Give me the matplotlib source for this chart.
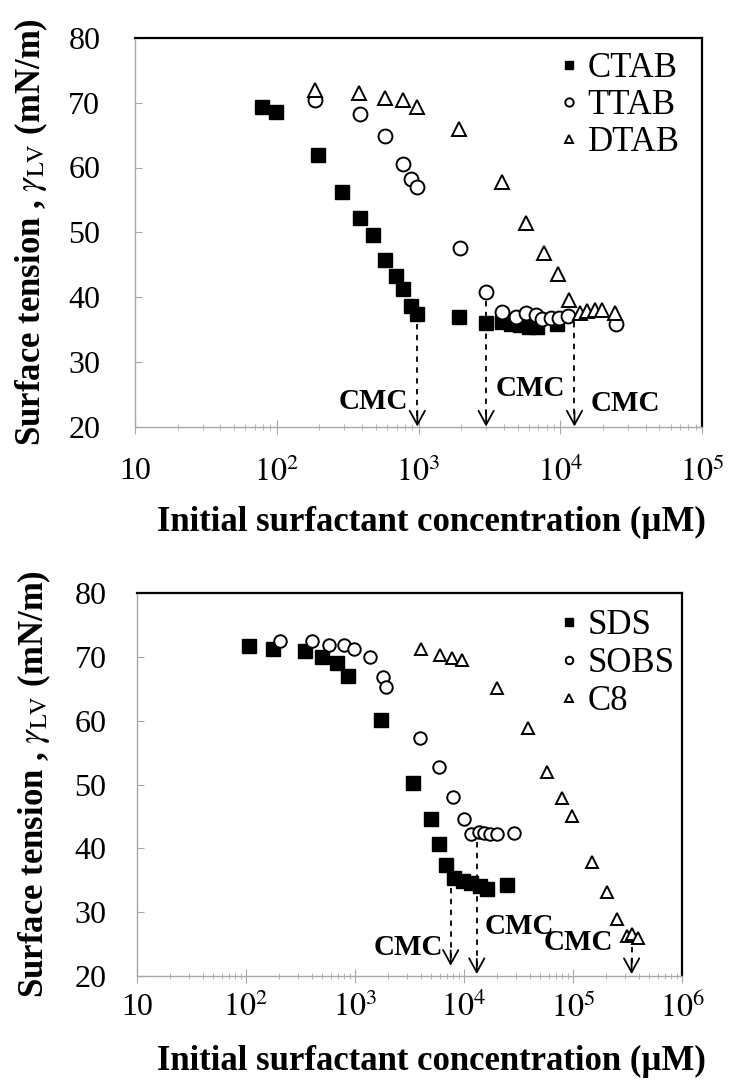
import matplotlib
matplotlib.use('Agg')
import matplotlib.pyplot as plt
from matplotlib.ticker import FixedLocator, FixedFormatter, LogLocator, NullFormatter

plt.rcParams['font.family'] = ['Liberation Serif', 'DejaVu Serif']
plt.rcParams['mathtext.fontset'] = 'stix'

# ---------------- Top panel (cationic surfactants) ----------------
ctab_x = [79, 99, 194, 290, 386, 480, 580, 690, 773, 885, 981, 1940, 3000,
          3900, 4500, 5200, 6000, 6900, 9550]
ctab_y = [69.4, 68.6, 61.9, 56.2, 52.2, 49.6, 45.7, 43.3, 41.2, 38.6, 37.3, 36.9, 36.0,
          36.2, 35.9, 35.6, 35.3, 35.3, 35.8]
ttab_x = [187, 386, 580, 773, 885, 971, 1963, 3000, 3900, 4850, 5710, 6720, 7480,
          8570, 9810, 11360, 24660]
ttab_y = [70.4, 68.2, 64.8, 60.5, 58.3, 57.0, 47.5, 40.8, 37.7, 36.9, 37.5, 37.2, 36.6,
          36.7, 36.8, 37.1, 35.9]
dtab_x = [187, 382, 580, 773, 981, 1940, 3870, 5720, 7620, 9640, 11530, 13800, 15400,
          17700, 19800, 24500]
dtab_y = [72.0, 71.5, 70.7, 70.4, 69.4, 65.9, 57.7, 51.5, 46.8, 43.5, 39.6, 37.6, 37.8,
          38.0, 38.0, 37.6]
top_cmc_x = [981, 3000, 12600]
top_cmc_start = [35.9, 39.4, 36.1]
top_cmc_end = [20.0, 20.0, 20.0]
top_cmc_label_x = [849, 3500, 16400]
top_cmc_label_y = [23.8, 25.9, 23.6]
top_cmc_label_ha = ['right', 'left', 'left']
top_xticks = [10, 1e2, 1e3, 1e4, 1e5]
top_xticklabels = ['10', '$10^{2}$', '$10^{3}$', '$10^{4}$', '$10^{5}$']

# ---------------- Bottom panel (anionic surfactants) ----------------
sds_x = [107, 176, 347, 501, 679, 869, 1722, 3430, 4980, 5860, 6900, 8100, 9700,
         11500, 14000, 16300, 24700]
sds_y = [71.7, 71.2, 70.9, 70.0, 69.0, 67.0, 60.1, 50.2, 44.6, 40.7, 37.4, 35.3, 34.9,
         34.5, 34.1, 33.7, 34.3]
sobs_x = [205, 401, 582, 798, 979, 1374, 1820, 1925, 3950, 5930, 7900, 9900, 11700,
          13700, 15400, 17500, 19950, 28900]
sobs_y = [72.5, 72.5, 71.9, 71.9, 71.2, 70.0, 66.8, 65.2, 57.3, 52.7, 48.0, 44.6, 42.2,
          42.5, 42.4, 42.3, 42.2, 42.4]
c8_x = [4000, 6030, 7710, 9530, 19960, 38900, 57400, 78800, 97200, 148000, 204000,
        252000, 311000, 346000, 398000]
c8_y = [71.3, 70.3, 69.8, 69.5, 65.1, 58.8, 52.0, 47.9, 45.0, 37.9, 33.2, 29.0, 26.3,
        26.6, 25.9]
bot_cmc_x = [7550, 13100, 345000]
bot_cmc_start = [33.8, 41.0, 24.6]
bot_cmc_end = [21.6, 20.3, 20.3]
bot_cmc_label_x = [6400, 15600, 233000]
bot_cmc_label_y = [24.5, 27.7, 25.3]
bot_cmc_label_ha = ['right', 'left', 'right']
bot_xticks = [10, 1e2, 1e3, 1e4, 1e5, 1e6]
bot_xticklabels = ['10', '$10^{2}$', '$10^{3}$', '$10^{4}$', '$10^{5}$', '$10^{6}$']

yticks = [20, 30, 40, 50, 60, 70, 80]
ylabel = r'Surface tension , $\gamma_{\mathrm{LV}}$ (mN/m)'
xlabel = 'Initial surfactant concentration (\u00b5M)'

fig = plt.figure(figsize=(7.34, 10.88), dpi=100)
ax1 = fig.add_axes([135/734, 1-426.5/1088, 567/734, 388.5/1088])
ax2 = fig.add_axes([137/734, 1-976/1088, 545/734, 383/1088])

GRAY = '#a8a8a8'


def style(ax, xticks, xticklabels, xmax, ypad, xpad):
    ax.set_xscale('log')
    ax.set_xlim(10, xmax)
    ax.set_ylim(20, 80)
    ax.xaxis.set_major_locator(FixedLocator(xticks))
    ax.xaxis.set_major_formatter(FixedFormatter(xticklabels))
    ax.xaxis.set_minor_locator(LogLocator(base=10, subs=range(2, 10), numticks=20))
    ax.xaxis.set_minor_formatter(NullFormatter())
    ax.set_yticks(yticks)
    for s in ['top', 'right']:
        ax.spines[s].set_color('black')
        ax.spines[s].set_linewidth(1.6)
    for s in ['left', 'bottom']:
        ax.spines[s].set_color(GRAY)
        ax.spines[s].set_linewidth(1.0)
    ax.tick_params(axis='y', direction='in', length=5, color=GRAY, labelsize=23, pad=ypad)
    ax.tick_params(axis='x', which='major', direction='inout', length=10, color=GRAY,
                   labelsize=23, pad=xpad)
    ax.tick_params(axis='x', which='minor', direction='inout', length=5, color=GRAY)
    ax.set_ylabel(ylabel, fontsize=25, fontweight='bold')
    ax.set_xlabel(xlabel, fontsize=25, fontweight='bold')


def cmc(ax, xs, starts, ends, lx, ly, lha):
    for x, s, e in zip(xs, starts, ends):
        ax.plot([x, x], [s, e + 1.2], ls=(0, (3, 3)), color='black', lw=1.3)
        ax.annotate('', xy=(x, e), xytext=(x, e + 2.4),
                    arrowprops=dict(arrowstyle='->,head_length=1.0,head_width=0.55',
                                    mutation_scale=10, color='black', lw=1.3,
                                    shrinkA=0, shrinkB=0))
    for x, y, ha in zip(lx, ly, lha):
        ax.text(x, y, 'CMC', fontsize=21, fontweight='bold', ha=ha, va='center')


# top panel
ax1.plot(ctab_x, ctab_y, 's', ms=10.5, color='black', label='CTAB', zorder=3)
ax1.plot(ttab_x, ttab_y, 'o', ms=10, mfc='white', mec='black', mew=1.4, label='TTAB', zorder=4)
ax1.plot(dtab_x, dtab_y, '^', ms=9.5, mfc='white', mec='black', mew=1.4, label='DTAB', zorder=5)
style(ax1, top_xticks, top_xticklabels, 1e5, 25, 17)
cmc(ax1, top_cmc_x, top_cmc_start, top_cmc_end, top_cmc_label_x, top_cmc_label_y, top_cmc_label_ha)
ax1.yaxis.set_label_coords(-0.15, 0.5)
ax1.xaxis.set_label_coords(0.522, -0.205)
ax1.legend(loc='upper right', bbox_to_anchor=(0.985, 1.0), frameon=False, fontsize=25,
           markerscale=0.6, handlelength=0.5, handletextpad=0.3, labelspacing=0.12,
           borderaxespad=0.0)

# bottom panel
ax2.plot(sds_x, sds_y, 's', ms=9.5, color='black', label='SDS', zorder=3)
ax2.plot(sobs_x, sobs_y, 'o', ms=9, mfc='white', mec='black', mew=1.4, label='SOBS', zorder=4)
ax2.plot(c8_x, c8_y, '^', ms=8.5, mfc='white', mec='black', mew=1.4, label='C8', zorder=5)
style(ax2, bot_xticks, bot_xticklabels, 1e6, 22, 7)
cmc(ax2, bot_cmc_x, bot_cmc_start, bot_cmc_end, bot_cmc_label_x, bot_cmc_label_y, bot_cmc_label_ha)
ax2.yaxis.set_label_coords(-0.155, 0.5)
ax2.xaxis.set_label_coords(0.54, -0.18)
ax2.legend(loc='upper right', bbox_to_anchor=(1.012, 0.995), frameon=False, fontsize=25,
           markerscale=0.6, handlelength=0.5, handletextpad=0.3, labelspacing=0.15,
           borderaxespad=0.0)

fig.savefig('out.png', dpi=100, facecolor='white')
